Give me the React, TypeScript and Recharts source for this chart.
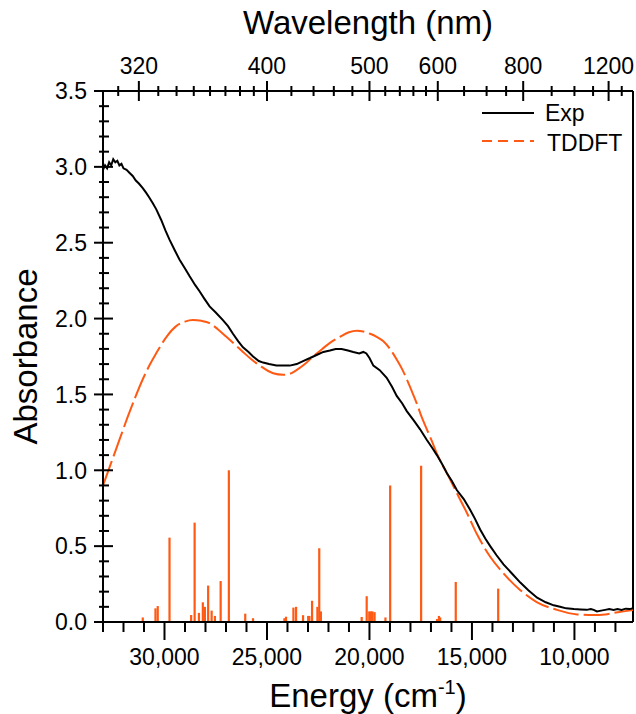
import React from 'react';
import { ComposedChart, Line, Bar, XAxis, YAxis, Legend, ReferenceLine } from 'recharts';

const FONT = '"Liberation Sans", Arial, Helvetica, sans-serif';
const ORANGE = '#FF5A14';

// Experimental absorbance: [energy cm-1, absorbance]
const expSpectrum: [number, number][] = [
  [33000, 2.98], [32900, 3.01], [32800, 2.99], [32700, 3.03], [32600, 3.01], [32500, 3.05], [32400, 3.03],
  [32300, 3.04], [32200, 3.01], [32100, 3.02], [32000, 2.99], [31850, 2.98], [31700, 2.96], [31550, 2.94],
  [31400, 2.91], [31250, 2.89], [31060, 2.86], [30900, 2.83], [30750, 2.8], [30570, 2.76], [30400, 2.72],
  [30160, 2.65], [29950, 2.58], [29755, 2.52], [29500, 2.45], [29270, 2.39], [29000, 2.33], [28780, 2.28],
  [28500, 2.22], [28290, 2.18], [28050, 2.13], [27800, 2.08], [27500, 2.04], [27150, 1.99], [26900, 1.95],
  [26660, 1.9], [26400, 1.85], [26170, 1.81], [25900, 1.78], [25680, 1.75], [25400, 1.72], [25190, 1.71],
  [24900, 1.7], [24540, 1.69], [24200, 1.69], [23890, 1.69], [23550, 1.7], [23240, 1.72], [22900, 1.74],
  [22580, 1.76], [22250, 1.78], [21930, 1.79], [21650, 1.8], [21360, 1.8], [21050, 1.79], [20790, 1.78],
  [20500, 1.77], [20300, 1.78], [20150, 1.77], [20000, 1.74], [19810, 1.69], [19500, 1.66], [19160, 1.61],
  [18900, 1.55], [18670, 1.49], [18400, 1.44], [18180, 1.39], [17850, 1.33], [17530, 1.27], [17200, 1.2],
  [16950, 1.15], [16710, 1.1], [16450, 1.04], [16220, 0.98], [15980, 0.93], [15740, 0.87], [15400, 0.81],
  [15090, 0.74], [14850, 0.68], [14600, 0.61], [14350, 0.55], [14110, 0.5], [13800, 0.44], [13460, 0.38],
  [13050, 0.32], [12640, 0.26], [12250, 0.21], [11820, 0.16], [11400, 0.13], [11010, 0.11], [10700, 0.1],
  [10400, 0.09], [10030, 0.085], [9700, 0.083], [9400, 0.08], [9200, 0.085], [9060, 0.08], [8900, 0.07],
  [8700, 0.075], [8500, 0.08], [8300, 0.085], [8090, 0.08], [7900, 0.085], [7700, 0.08], [7500, 0.088],
  [7300, 0.085], [7143, 0.09],
];

// TDDFT broadened spectrum
const tddftSpectrum: [number, number][] = [
  [33000, 0.9], [32600, 1.05], [32200, 1.2], [31800, 1.35], [31400, 1.49], [31060, 1.6], [30700, 1.7],
  [30410, 1.77], [29900, 1.88], [29430, 1.95], [29000, 1.98], [28620, 1.99], [28200, 1.985], [27800, 1.97],
  [27400, 1.93], [26980, 1.88], [26570, 1.83], [26170, 1.78], [25750, 1.73], [25350, 1.69], [24700, 1.64],
  [24210, 1.63], [23900, 1.635], [23560, 1.66], [23150, 1.7], [22750, 1.75], [22300, 1.8], [21930, 1.84],
  [21440, 1.88], [21000, 1.91], [20620, 1.92], [20300, 1.915], [19970, 1.9], [19650, 1.88], [19320, 1.85],
  [19000, 1.8], [18670, 1.73], [18420, 1.67], [18180, 1.6], [17930, 1.52], [17690, 1.44], [17450, 1.35],
  [17200, 1.27], [16950, 1.19], [16710, 1.11], [16460, 1.04], [16220, 0.98], [15740, 0.85], [15250, 0.72],
  [14760, 0.58], [14110, 0.43], [13460, 0.32], [12640, 0.21], [11820, 0.13], [10850, 0.08], [9870, 0.05],
  [9060, 0.046], [8500, 0.05], [8080, 0.06], [7600, 0.07], [7143, 0.08],
];

// TDDFT transitions (sticks): [energy cm-1, relative strength]
const transitions: [number, number][] = [
  [31060, 0.03], [30440, 0.09], [30330, 0.105], [29755, 0.556], [28700, 0.046], [28530, 0.655],
  [28320, 0.06], [28130, 0.13], [28030, 0.1], [27870, 0.24], [27700, 0.075], [27540, 0.04], [27260, 0.27],
  [26860, 1.0], [26060, 0.055], [25680, 0.025], [24500, 0.005], [24150, 0.025], [24070, 0.035],
  [23710, 0.095], [23580, 0.1], [23240, 0.045], [22990, 0.04], [22930, 0.04], [22800, 0.14], [22540, 0.1],
  [22450, 0.486], [22370, 0.07], [20380, 0.033], [20135, 0.17], [20010, 0.07], [19930, 0.07], [19850, 0.07],
  [19750, 0.065], [19220, 0.03], [18990, 0.9], [18000, 0.005], [17480, 1.03], [16700, 0.02], [16610, 0.04],
  [16550, 0.03], [15790, 0.264], [13720, 0.22],
];

const energyDomain: [number, number] = [7143, 33000];
const energyTicks = [33000, 32000, 31000, 30000, 29000, 28000, 27000, 26000, 25000, 24000, 23000, 22000,
  21000, 20000, 19000, 18000, 17000, 16000, 15000, 14000, 13000, 12000, 11000, 10000, 9000, 8000];
const energyMajor = [30000, 25000, 20000, 15000, 10000];
const energyLabels = ['30,000', '25,000', '20,000', '15,000', '10,000'];

const absTicks = [0, 0.1, 0.2, 0.3, 0.4, 0.5, 0.6, 0.7, 0.8, 0.9, 1.0, 1.1, 1.2, 1.3, 1.4, 1.5, 1.6, 1.7,
  1.8, 1.9, 2.0, 2.1, 2.2, 2.3, 2.4, 2.5, 2.6, 2.7, 2.8, 2.9, 3.0, 3.1, 3.2, 3.3, 3.4, 3.5];
const absMajor = [0, 0.5, 1.0, 1.5, 2.0, 2.5, 3.0, 3.5];

const nmTicks = [310, 320, 330, 340, 350, 360, 370, 380, 390, 400, 420, 440, 460, 480, 500, 520, 540, 560,
  580, 600, 650, 700, 750, 800, 900, 1000, 1100, 1200, 1300];
const nmMajor = [320, 400, 500, 600, 800, 1200];

const expData = expSpectrum.map(([e, a]) => ({ e, a }));
const tddftData = tddftSpectrum.map(([e, a]) => ({ e, a }));
const stickData = transitions.map(([e, f]) => ({ e, f }));
const topTickEnergies = nmTicks.map((nm) => 1e7 / nm);

const TICK_FS = 23;
const TITLE_FS = 33;

const BottomTick = (props: any) => {
  const { x, y, payload } = props;
  const idx = energyMajor.indexOf(payload.value);
  const major = idx >= 0;
  return (
    <g>
      <line x1={x} x2={x} y1={y} y2={y + (major ? 18 : 10)} stroke="#000" strokeWidth={2} />
      {major && (
        <text x={x} y={y + 43} textAnchor="middle" fontSize={TICK_FS} fontFamily={FONT} fill="#000">
          {energyLabels[idx]}
        </text>
      )}
    </g>
  );
};

const TopTick = (props: any) => {
  const { x, y, payload } = props;
  const nm = Math.round(1e7 / payload.value);
  const major = nmMajor.includes(nm);
  return (
    <g>
      <line x1={x} x2={x} y1={y - (major ? 10 : 5)} y2={y + (major ? 10 : 5)} stroke="#000" strokeWidth={2} />
      {major && (
        <text x={x} y={y - 17} textAnchor="middle" fontSize={TICK_FS} fontFamily={FONT} fill="#000">
          {nm}
        </text>
      )}
    </g>
  );
};

const LeftTick = (props: any) => {
  const { x, y, payload } = props;
  const v = payload.value;
  const major = absMajor.some((m) => Math.abs(m - v) < 1e-6);
  return (
    <g>
      <line x1={x - (major ? 9 : 4)} x2={x + (major ? 10 : 6)} y1={y} y2={y} stroke="#000" strokeWidth={2} />
      {major && (
        <text x={x - 16} y={y} dy="0.36em" textAnchor="end" fontSize={TICK_FS} fontFamily={FONT} fill="#000">
          {v.toFixed(1)}
        </text>
      )}
    </g>
  );
};

const StickShape = (props: any) => {
  const { x, y, width, height } = props;
  if (height == null || isNaN(height)) return null;
  const cx = x + width / 2;
  return <rect x={cx - 1.1} y={y} width={2.2} height={height} fill={ORANGE} />;
};

const renderLegend = () => (
  <svg width={160} height={60} style={{ display: 'block' }}>
    <line x1={4} x2={56} y1={13} y2={13} stroke="#000" strokeWidth={2} />
    <text x={67} y={21} fontSize={TICK_FS} fontFamily={FONT} fill="#000">Exp</text>
    <line x1={4} x2={56} y1={41} y2={41} stroke={ORANGE} strokeWidth={2} strokeDasharray="10 6" />
    <text x={69} y={51} fontSize={TICK_FS} fontFamily={FONT} fill="#000">TDDFT</text>
  </svg>
);

export default function App() {
  return (
    <div style={{ position: 'absolute', left: 0, top: 0, width: 636, height: 714, background: '#fff' }}>
      <ComposedChart
        width={636}
        height={714}
        data={stickData}
        margin={{ top: 0, right: 3, bottom: 0, left: 0 }}
      >
        <XAxis
          xAxisId="bottom"
          dataKey="e"
          type="number"
          domain={energyDomain}
          allowDataOverflow
          reversed
          ticks={energyTicks}
          interval={0}
          tickSize={0}
          tickMargin={0}
          tickLine={false}
          tick={<BottomTick />}
          axisLine={{ stroke: '#000', strokeWidth: 2 }}
          height={92}
          orientation="bottom"
          label={{
            content: (p: any) => {
              const vb = p.viewBox;
              return (
                <text x={vb.x + vb.width / 2} y={vb.y + 85} textAnchor="middle" fontSize={TITLE_FS} fontFamily={FONT} fill="#000">
                  <tspan>Energy (cm</tspan>
                  <tspan fontSize={20} dy={-13}>-1</tspan>
                  <tspan dy={13}>)</tspan>
                </text>
              );
            },
          }}
        />
        <XAxis
          xAxisId="top"
          dataKey="e"
          type="number"
          domain={energyDomain}
          allowDataOverflow
          reversed
          ticks={topTickEnergies}
          interval={0}
          tickSize={0}
          tickMargin={0}
          tickLine={false}
          tick={<TopTick />}
          axisLine={{ stroke: '#000', strokeWidth: 2 }}
          height={91}
          orientation="top"
          label={{
            content: (p: any) => {
              const vb = p.viewBox;
              return (
                <text x={vb.x + vb.width / 2} y={vb.y + 34} textAnchor="middle" fontSize={TITLE_FS} fontFamily={FONT} fill="#000">
                  Wavelength (nm)
                </text>
              );
            },
          }}
        />
        <YAxis
          yAxisId="abs"
          type="number"
          domain={[0, 3.5]}
          allowDataOverflow
          ticks={absTicks}
          interval={0}
          tickSize={0}
          tickMargin={0}
          tickLine={false}
          tick={<LeftTick />}
          axisLine={{ stroke: '#000', strokeWidth: 2 }}
          width={103}
          label={{
            content: (p: any) => {
              const vb = p.viewBox;
              const cy = vb.y + vb.height / 2;
              return (
                <text
                  x={37}
                  y={cy}
                  transform={`rotate(-90, 37, ${cy})`}
                  textAnchor="middle"
                  fontSize={TITLE_FS}
                  fontFamily={FONT}
                  fill="#000"
                >
                  Absorbance
                </text>
              );
            },
          }}
        />
        <ReferenceLine xAxisId="bottom" yAxisId="abs" x={energyDomain[0]} stroke="#000" strokeWidth={2} />
        <Bar
          xAxisId="bottom"
          yAxisId="abs"
          dataKey="f"
          fill={ORANGE}
          shape={<StickShape />}
          isAnimationActive={false}
        />
        <Line
          xAxisId="top"
          yAxisId="abs"
          data={expData}
          dataKey="a"
          stroke="none"
          dot={false}
          activeDot={false}
          isAnimationActive={false}
          legendType="none"
        />
        <Line
          xAxisId="bottom"
          yAxisId="abs"
          data={tddftData}
          dataKey="a"
          type="monotone"
          stroke={ORANGE}
          strokeWidth={2}
          strokeDasharray="26 5"
          dot={false}
          activeDot={false}
          isAnimationActive={false}
        />
        <Line
          xAxisId="bottom"
          yAxisId="abs"
          data={expData}
          dataKey="a"
          type="linear"
          stroke="#000"
          strokeWidth={2}
          dot={false}
          activeDot={false}
          isAnimationActive={false}
        />
        <Legend
          content={renderLegend}
          layout="horizontal"
          verticalAlign="middle"
          align="center"
          wrapperStyle={{ position: 'absolute', left: 478, top: 100, width: 160, height: 60 }}
        />
      </ComposedChart>
    </div>
  );
}
